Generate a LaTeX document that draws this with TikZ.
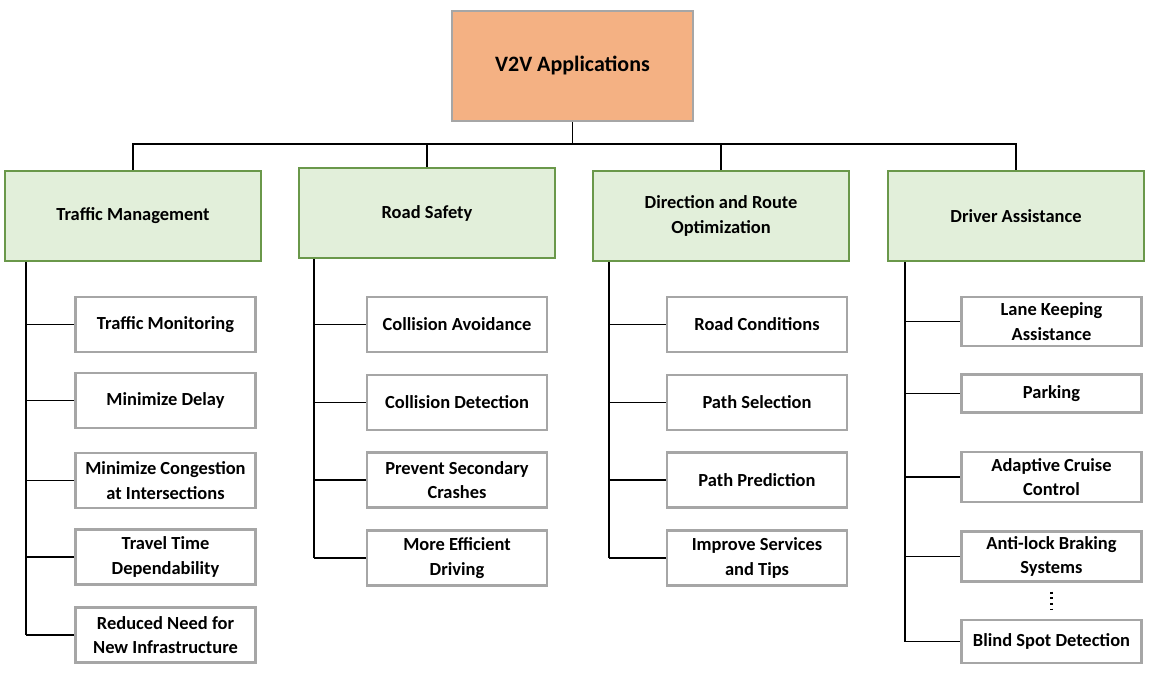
\documentclass[tikz,border=0pt]{standalone}
\usepackage{fontspec}
\setmainfont{Carlito}
\usepackage{xcolor}
\usetikzlibrary{positioning,calc}
\definecolor{rootfill}{HTML}{F4B183}
\definecolor{catfill}{HTML}{E2EFDA}
\definecolor{catline}{HTML}{6A984A}
\definecolor{boxline}{HTML}{A6A6A6}

\begin{document}
\begin{tikzpicture}[x=0.02cm, y=-0.02cm, line width=1pt,
  font=\bfseries\fontsize{10.5}{14}\selectfont,
  r/.style={draw=boxline, line width=1.5pt, fill=rootfill, minimum width=4.82cm, minimum height=2.2cm, font=\bfseries\fontsize{12.5}{15}\selectfont},
  c/.style={draw=catline, line width=1pt, fill=catfill, minimum width=5.12cm, minimum height=1.8cm, align=center},
  l/.style={draw=boxline, line width=1.4pt, fill=white, minimum width=3.6cm, minimum height=1.1cm, align=center, inner sep=1pt}]
  \useasboundingbox (0,0) rectangle (1151,676);
  \node[r] (root) at (572.5,66) {V2V Applications};
  \node[c] (tm) at (133,216) {Traffic Management}; \node[c] (rs) at (427,213) {Road Safety};
  \node[c] (dr) at (721,216) {Direction and Route\\Optimization}; \node[c] (da) at (1016,216) {Driver Assistance};
  \node[l] (tm1) at (165.5,324.5) {Traffic Monitoring}; \node[l] (tm2) at (165.5,400.5) {Minimize Delay};
  \node[l] (tm3) at (165.5,480.5) {Minimize Congestion\\at Intersections}; \node[l] (tm4) at (165.5,557) {Travel Time\\Dependability};
  \node[l] (tm5) at (165.5,635) {Reduced Need for\\New Infrastructure};
  \node[l] (rs1) at (457,324.5) {Collision Avoidance}; \node[l] (rs2) at (457,402.5) {Collision Detection};
  \node[l] (rs3) at (457,480) {Prevent Secondary\\Crashes}; \node[l] (rs4) at (457,558) {More Efficient\\Driving};
  \node[l] (dr1) at (757,324.5) {Road Conditions}; \node[l] (dr2) at (757,402.5) {Path Selection};
  \node[l] (dr3) at (757,480) {Path Prediction}; \node[l] (dr4) at (757,558) {Improve Services\\and Tips};
  \node[l, minimum height=0.98cm] (da1) at (1051.5,321.5) {Lane Keeping\\Assistance};
  \node[l, minimum height=0.76cm] (da2) at (1051.5,393.5) {Parking};
  \node[l, minimum height=1cm] (da3) at (1051.5,477) {Adaptive Cruise\\Control};
  \node[l, minimum height=1cm] (da4) at (1051.5,556.5) {Anti-lock Braking\\Systems};
  \node[l, minimum height=0.86cm] (da5) at (1051.5,641.5) {Blind Spot Detection};
  \coordinate (bus) at ($(root.south)+(0,22)$);
  \draw (root.south) -- (bus); \draw (tm.north) |- (bus) -| (da.north);
  \foreach \c in {rs,dr} \draw (\c.north) -- (\c.north |- bus);
  \foreach \c/\dx in {tm/22,rs/16,dr/17,da/18} \coordinate (\c-s) at ($(\c.south west)+(\dx,0)$);
  \foreach \c/\n in {tm/5,rs/4,dr/4,da/5} {
    \draw (\c-s) -- (\c-s |- \c\n.west);
    \foreach \k in {1,...,\n} \draw (\c-s |- \c\k.west) -- (\c\k.west);
  }
  \draw[dotted, line width=1.2pt, shorten <=0.18cm, shorten >=0.18cm] (da4.south) -- (da5.north);
\end{tikzpicture}
\end{document}
